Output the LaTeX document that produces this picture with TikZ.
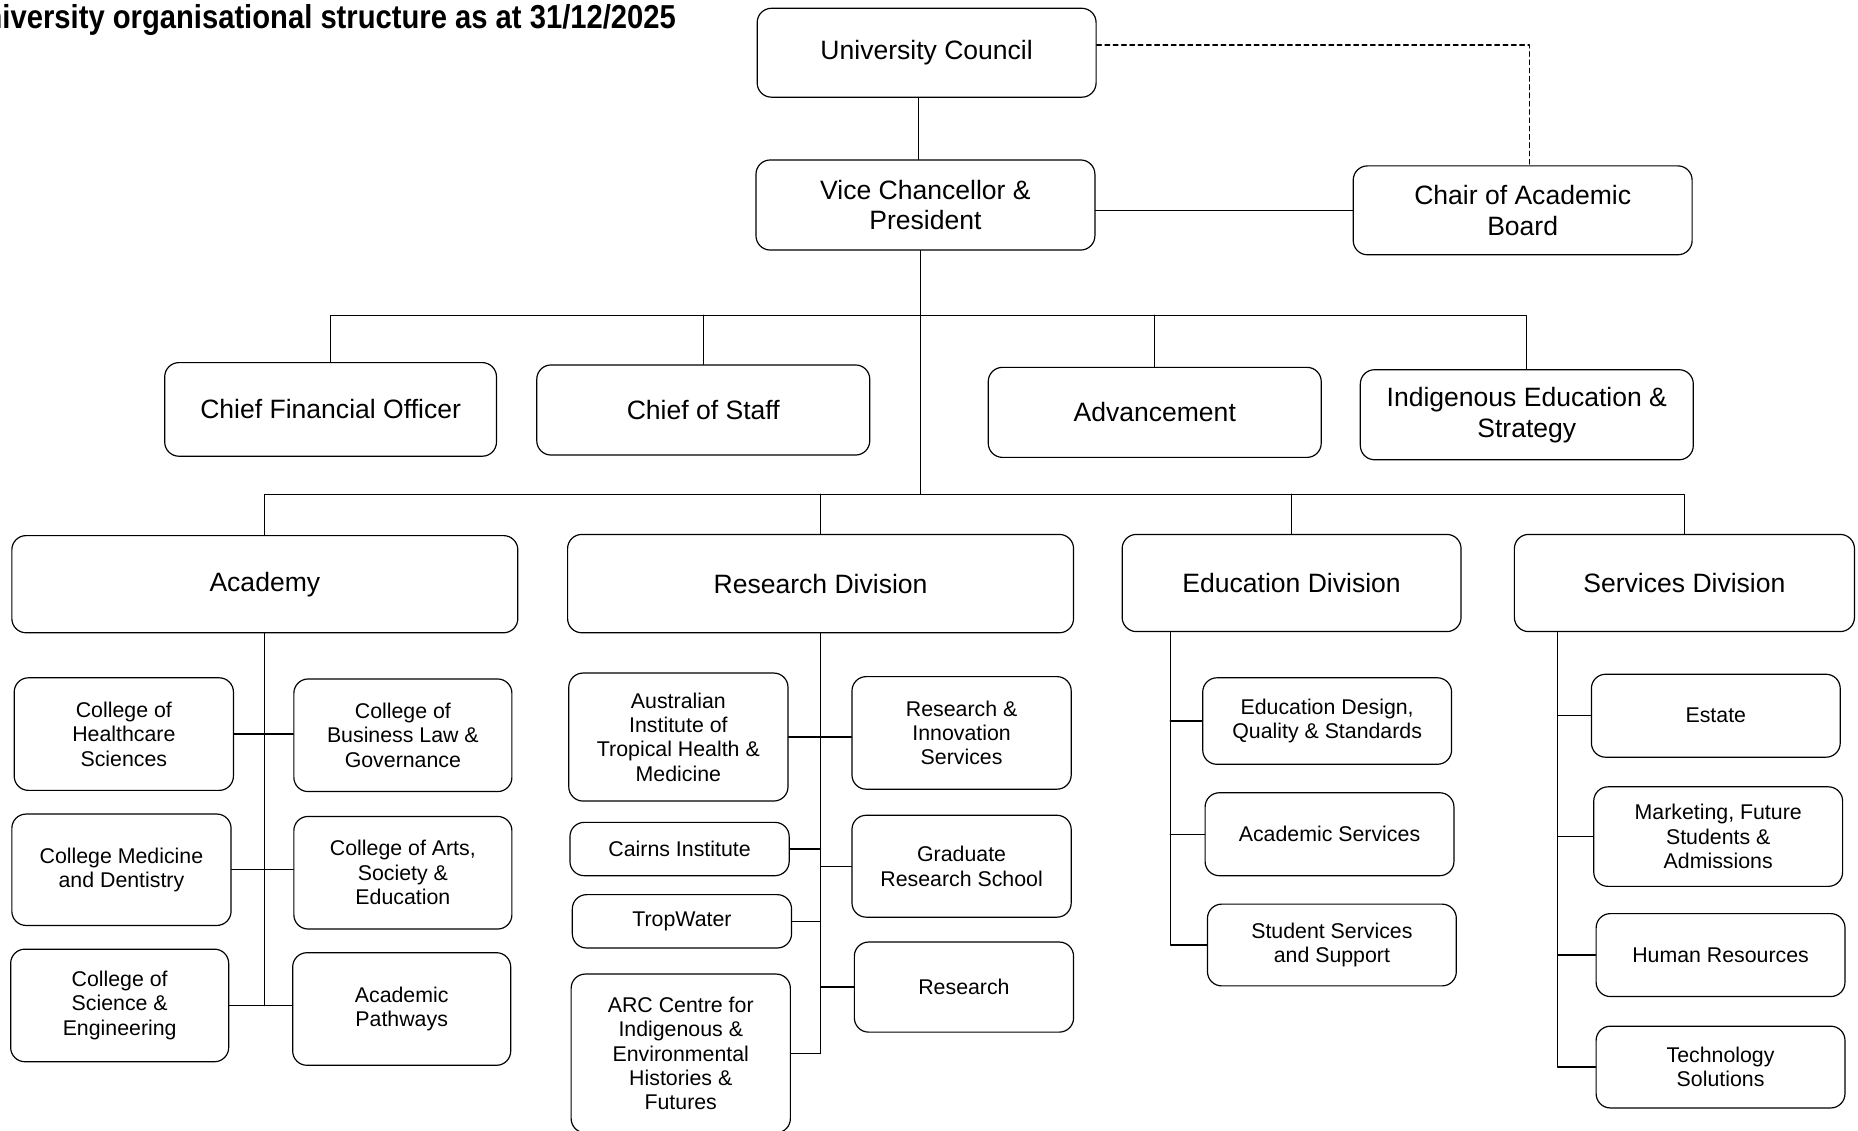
\documentclass[tikz,border=0pt]{standalone}
\usepackage{fontspec}
\setmainfont{Liberation Sans}
\newfontfamily\titlefamily[FakeStretch=0.88]{Liberation Sans}
\usetikzlibrary{calc}

\tikzset{
  unit/.style={draw, line width=1pt, rounded corners=12pt, align=center, inner sep=2pt,
    font=\fontsize{22.4}{26}\selectfont},
  subunit/.style={unit, font=\fontsize{18}{20.6}\selectfont},
  sz/.style 2 args={minimum width=#1, minimum height=#2},
  link/.style={line width=1pt}
}

\begin{document}
\begin{tikzpicture}[x=1pt, y=-1pt, line cap=round, line join=round]
    \useasboundingbox (0,0) rectangle (1568,954);
    \node[anchor=base east, font=\titlefamily\bfseries\fontsize{28}{32}\selectfont] (title) at (574,24) {University organisational structure as at 31/12/2025};

    % top levels
    \node[unit, sz={286}{75}] (uc) at (782,44.5) {University Council};
    \node[unit, sz={286}{76}] (vc) at (781,173) {Vice Chancellor \&\\President};
    \node[unit, sz={286}{75}] (cab) at (1285,177.5) {Chair of Academic\\Board};
    \node[unit, sz={280}{79}] (cfo) at (279,345.5) {Chief Financial Officer};
    \node[unit, sz={281}{76}] (cos) at (593.5,346) {Chief of Staff};
    \node[unit, sz={281}{76}] (adv) at (974.5,348) {Advancement};
    \node[unit, sz={281}{76}] (ies) at (1288.5,350) {Indigenous Education \&\\Strategy};
    \node[unit, sz={427}{82}] (acad) at (223.5,493) {Academy};
    \node[unit, sz={427}{83}] (rdiv) at (692.5,492.5) {Research Division};
    \node[unit, sz={286}{82}] (ediv) at (1090,492) {Education Division};
    \node[unit, sz={287}{82}] (sdiv) at (1421.5,492) {Services Division};

    % academy
    \node[subunit, sz={185}{95}] (chs) at (104.5,619.5) {College of\\Healthcare\\Sciences};
    \node[subunit, sz={184}{95}] (cblg) at (340,620.5) {College of\\Business Law \&\\Governance};
    \node[subunit, sz={185}{94}] (cmd) at (102.5,734) {College Medicine\\and Dentistry};
    \node[subunit, sz={184}{95}] (case) at (340,736.5) {College of Arts,\\Society \&\\Education};
    \node[subunit, sz={184}{95}] (cse) at (101,848.5) {College of\\Science \&\\Engineering};
    \node[subunit, sz={184}{95}] (ap) at (339,851.5) {Academic\\Pathways};

    % research
    \node[subunit, sz={185}{108}] (aithm) at (572.5,622) {Australian\\Institute of\\Tropical Health \&\\Medicine};
    \node[subunit, sz={185}{95}] (ris) at (811.5,618.5) {Research \&\\Innovation\\Services};
    \node[subunit, sz={185}{45}] (ci) at (573.5,716.5) {Cairns Institute};
    \node[subunit, sz={185}{86}] (grs) at (811.5,731) {Graduate\\Research School};
    \node[subunit, sz={185}{45}] (tw) at (575.5,777.5) {TropWater};
    \node[subunit, sz={185}{76}] (res) at (813.5,833) {Research};
    \node[subunit, sz={185}{134}] (arc) at (574.5,889) {ARC Centre for\\Indigenous \&\\Environmental\\Histories \&\\Futures};

    % education
    \node[subunit, sz={210}{73}] (edqs) at (1120,608.5) {Education Design,\\Quality \& Standards};
    \node[subunit, sz={210}{70}] (acs) at (1122,704) {Academic Services};
    \node[subunit, sz={210}{69}] (sss) at (1124,797.5) {Student Services\\and Support};

    % services
    \node[subunit, sz={210}{70}] (est) at (1448,604) {Estate};
    \node[subunit, sz={210}{84}] (mfsa) at (1450,706) {Marketing, Future\\Students \&\\Admissions};
    \node[subunit, sz={210}{70}] (hr) at (1452,806) {Human Resources};
    \node[subunit, sz={210}{69}] (ts) at (1452,900.5) {Technology\\Solutions};

    % connectors
    \coordinate (b1) at (0,266);
    \coordinate (b2) at (0,417);
    \draw[link] ([xshift=-7]uc.south) -- ([xshift=-7]uc.south |- vc.north);
    \draw[link, dashed, dash pattern=on 4pt off 3pt] ([yshift=6.5]uc.east) -| ([xshift=6]cab.north);
    \draw[link] (vc.east |- cab.west) -- (cab.west);
    \draw[link] ([xshift=-4]vc.south) -- ([xshift=-4]vc.south |- b2);
    \draw[link] (cfo.north) |- (ies.north |- b1) -- (ies.north);
    \foreach \n in {cos,adv} \draw[link] (\n.north) -- (\n.north |- b1);
    \draw[link] (acad.north) |- (sdiv.north |- b2) -- (sdiv.north);
    \foreach \n in {rdiv,ediv} \draw[link] (\n.north) -- (\n.north |- b2);

    \draw[link] (acad.south) -- (acad.south |- cse.east);
    \draw[link] (chs.east) -- (chs.east -| cblg.west);
    \draw[link] (cmd.east) -- (cmd.east -| case.west);
    \draw[link] (cse.east) -- (cse.east -| ap.west);

    \draw[link] (rdiv.south) -- (rdiv.south |- arc.east);
    \draw[link] (aithm.east) -- (aithm.east -| ris.west);
    \foreach \n in {ci,tw,arc} \draw[link] (\n.east) -- (\n.east -| rdiv.south);
    \foreach \n in {grs,res} \draw[link] (\n.west) -- (\n.west -| rdiv.south);

    \coordinate (et) at ([xshift=41]ediv.south west);
    \draw[link] (et) |- (sss.west);
    \foreach \n in {edqs,acs} \draw[link] (\n.west) -- (\n.west -| et);

    \coordinate (st) at ([xshift=37]sdiv.south west);
    \draw[link] (st) |- (ts.west);
    \foreach \n in {est,mfsa,hr} \draw[link] (\n.west) -- (\n.west -| st);
  \end{tikzpicture}
\end{document}
